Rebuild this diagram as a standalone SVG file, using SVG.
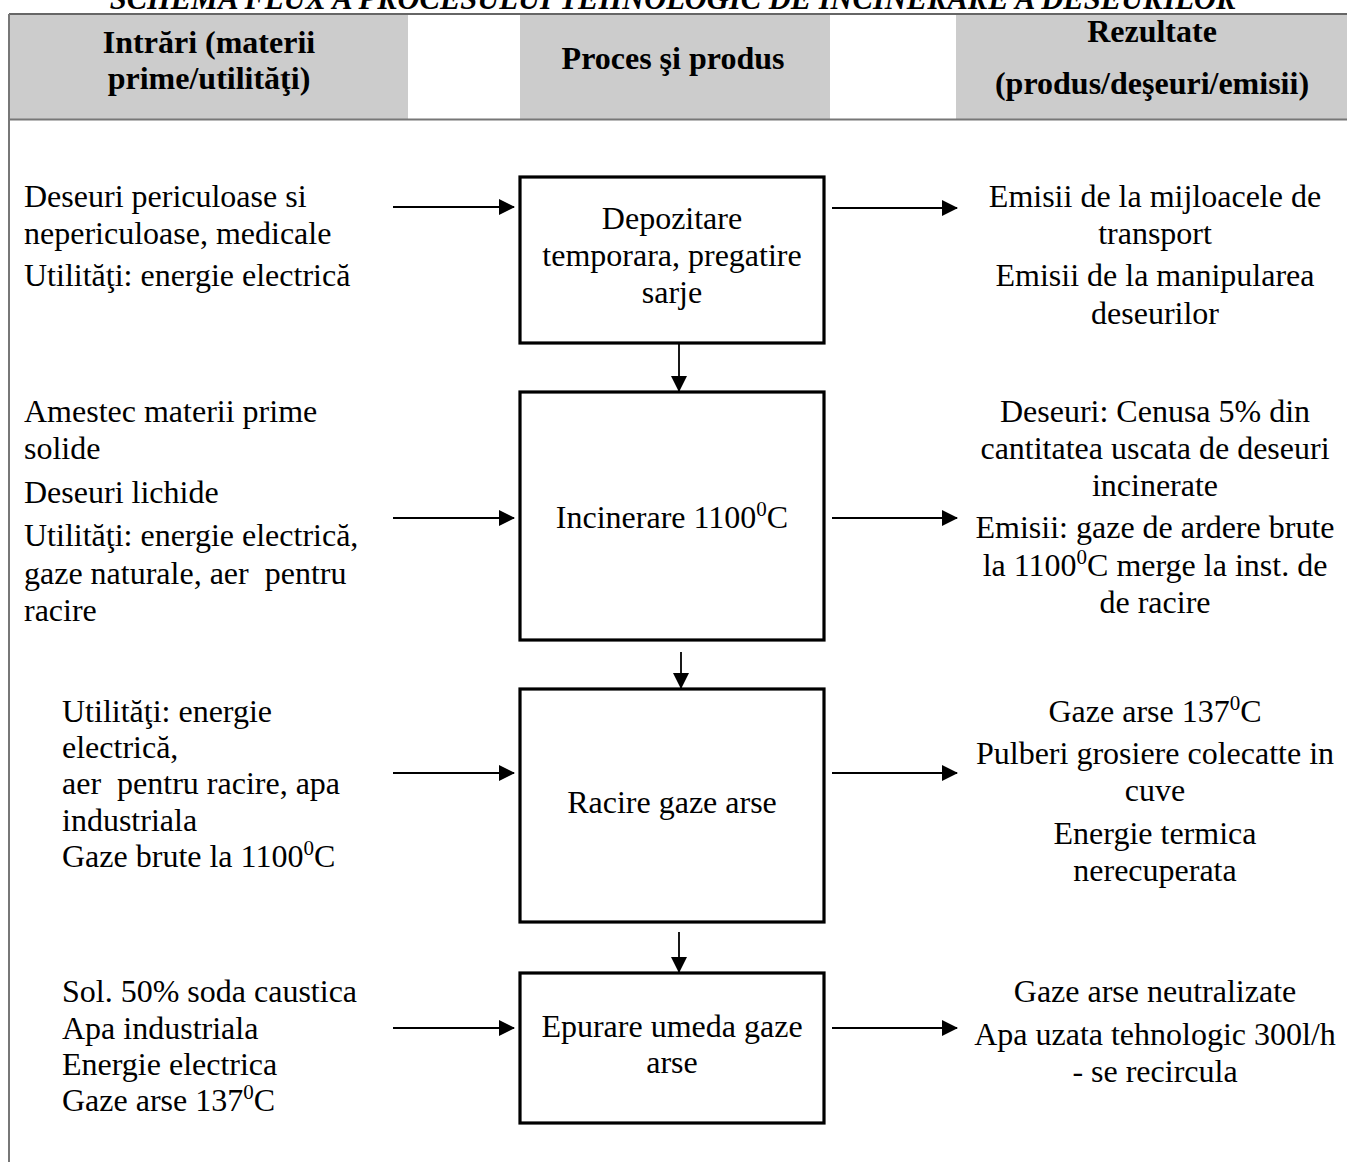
<svg xmlns="http://www.w3.org/2000/svg" width="1347" height="1162" viewBox="0 0 1347 1162">
<defs>
<style>
text{font-family:"Liberation Serif","Times New Roman",serif;font-size:32px;fill:#000}
.h{font-weight:bold}
.c{text-anchor:middle}
.sup{font-size:21px}
.box{fill:#fff;stroke:#000;stroke-width:3.2}
.ln{stroke:#000;stroke-width:1.8;fill:none}
.hd{fill:#cccccc}
</style>
<marker id="ah" markerWidth="16" markerHeight="16" refX="15" refY="8" orient="auto" markerUnits="userSpaceOnUse">
<path d="M0,0 L16,8 L0,16 z" fill="#000"/>
</marker>
</defs>
<rect width="1347" height="1162" fill="#fff"/>
<text x="673" y="9" class="c" style="font-weight:bold;font-style:italic;font-size:30.5px">SCHEMA FLUX A PROCESULUI TEHNOLOGIC DE INCINERARE A DESEURILOR</text>
<g id="header">
<rect class="hd" x="10" y="15" width="398" height="104"/>
<rect class="hd" x="520" y="15" width="310" height="104"/>
<rect class="hd" x="956" y="15" width="391" height="104"/>
<line x1="9" y1="14" x2="1347" y2="14" stroke="#666" stroke-width="2"/>
<line x1="9" y1="119.5" x2="1347" y2="119.5" stroke="#777" stroke-width="2"/>
<line x1="9" y1="14" x2="9" y2="1162" stroke="#777" stroke-width="2"/>
<text class="h c" x="209" y="53">Intrări (materii</text>
<text class="h c" x="209" y="89">prime/utilităţi)</text>
<text class="h c" x="673" y="69">Proces şi produs</text>
<text class="h c" x="1152" y="42">Rezultate</text>
<text class="h c" x="1152" y="94">(produs/deşeuri/emisii)</text>
</g>
<g id="inputs1">
<text x="24" y="207">Deseuri periculoase si</text>
<text x="24" y="244">nepericuloase, medicale</text>
<text x="24" y="286">Utilităţi: energie electrică</text>
</g>
<g id="node1">
<rect class="box" x="520" y="177" width="304" height="166"/>
<text class="c" x="672" y="229">Depozitare</text>
<text class="c" x="672" y="266">temporara, pregatire</text>
<text class="c" x="672" y="303">sarje</text>
</g>
<g id="outputs1">
<text class="c" x="1155" y="207">Emisii de la mijloacele de</text>
<text class="c" x="1155" y="244">transport</text>
<text class="c" x="1155" y="286">Emisii de la manipularea</text>
<text class="c" x="1155" y="324">deseurilor</text>
</g>
<g id="inputs2">
<text x="24" y="422">Amestec materii prime</text>
<text x="24" y="459">solide</text>
<text x="24" y="503">Deseuri lichide</text>
<text x="24" y="546">Utilităţi: energie electrică,</text>
<text x="24" y="584" xml:space="preserve">gaze naturale, aer  pentru</text>
<text x="24" y="621">racire</text>
</g>
<g id="node2">
<rect class="box" x="520" y="392" width="304" height="248"/>
<text class="c" x="672" y="528">Incinerare 1100<tspan class="sup" dy="-12">0</tspan><tspan dy="12">C</tspan></text>
</g>
<g id="outputs2">
<text class="c" x="1155" y="422">Deseuri: Cenusa 5% din</text>
<text class="c" x="1155" y="459">cantitatea uscata de deseuri</text>
<text class="c" x="1155" y="496">incinerate</text>
<text class="c" x="1155" y="538">Emisii: gaze de ardere brute</text>
<text class="c" x="1155" y="576">la 1100<tspan class="sup" dy="-12">0</tspan><tspan dy="12">C merge la inst. de</tspan></text>
<text class="c" x="1155" y="613">de racire</text>
</g>
<g id="inputs3">
<text x="62" y="722">Utilităţi: energie</text>
<text x="62" y="758">electrică,</text>
<text x="62" y="794" xml:space="preserve">aer  pentru racire, apa</text>
<text x="62" y="831">industriala</text>
<text x="62" y="867">Gaze brute la 1100<tspan class="sup" dy="-12">0</tspan><tspan dy="12">C</tspan></text>
</g>
<g id="node3">
<rect class="box" x="520" y="689" width="304" height="233"/>
<text class="c" x="672" y="813">Racire gaze arse</text>
</g>
<g id="outputs3">
<text class="c" x="1155" y="722">Gaze arse 137<tspan class="sup" dy="-12">0</tspan><tspan dy="12">C</tspan></text>
<text class="c" x="1155" y="764">Pulberi grosiere colecatte in</text>
<text class="c" x="1155" y="801">cuve</text>
<text class="c" x="1155" y="844">Energie termica</text>
<text class="c" x="1155" y="881">nerecuperata</text>
</g>
<g id="inputs4">
<text x="62" y="1002">Sol. 50% soda caustica</text>
<text x="62" y="1039">Apa industriala</text>
<text x="62" y="1075">Energie electrica</text>
<text x="62" y="1111">Gaze arse 137<tspan class="sup" dy="-12">0</tspan><tspan dy="12">C</tspan></text>
</g>
<g id="node4">
<rect class="box" x="520" y="973" width="304" height="150"/>
<text class="c" x="672" y="1037">Epurare umeda gaze</text>
<text class="c" x="672" y="1073">arse</text>
</g>
<g id="outputs4">
<text class="c" x="1155" y="1002">Gaze arse neutralizate</text>
<text class="c" x="1155" y="1045">Apa uzata tehnologic 300l/h</text>
<text class="c" x="1155" y="1082">- se recircula</text>
</g>
<g id="connectors">
<line class="ln" x1="393" y1="207" x2="514" y2="207" marker-end="url(#ah)"/>
<line class="ln" x1="832" y1="208" x2="957" y2="208" marker-end="url(#ah)"/>
<line class="ln" x1="679" y1="344" x2="679" y2="391" marker-end="url(#ah)"/>
<line class="ln" x1="393" y1="518" x2="514" y2="518" marker-end="url(#ah)"/>
<line class="ln" x1="832" y1="518" x2="957" y2="518" marker-end="url(#ah)"/>
<line class="ln" x1="681" y1="652" x2="681" y2="688" marker-end="url(#ah)"/>
<line class="ln" x1="393" y1="773" x2="514" y2="773" marker-end="url(#ah)"/>
<line class="ln" x1="832" y1="773" x2="957" y2="773" marker-end="url(#ah)"/>
<line class="ln" x1="679" y1="932" x2="679" y2="972" marker-end="url(#ah)"/>
<line class="ln" x1="393" y1="1028" x2="514" y2="1028" marker-end="url(#ah)"/>
<line class="ln" x1="832" y1="1028" x2="957" y2="1028" marker-end="url(#ah)"/>
</g>
</svg>
